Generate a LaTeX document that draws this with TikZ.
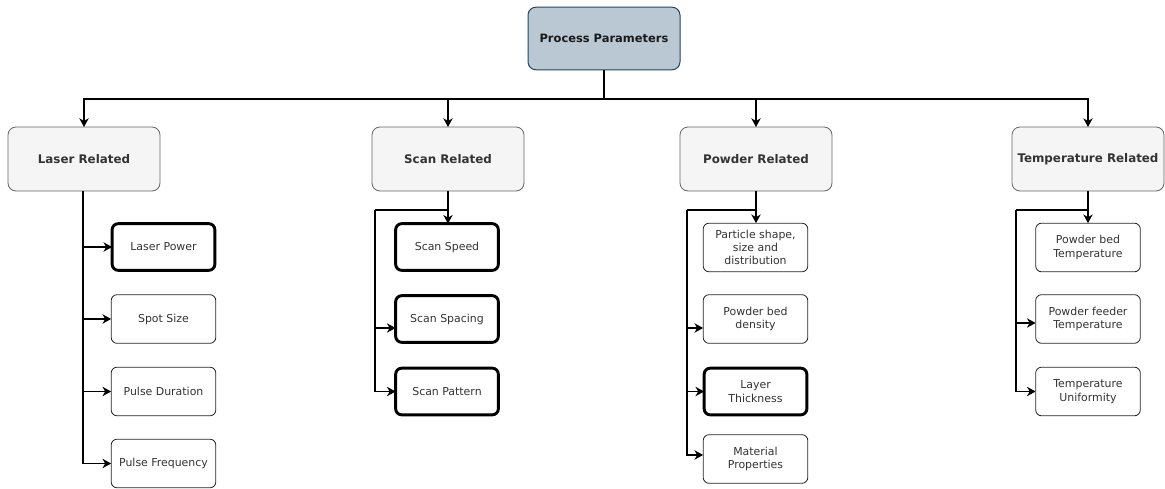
\documentclass[tikz,border=0pt]{standalone}
\usepackage{fontspec}
\setmainfont{DejaVu Sans}
\usetikzlibrary{arrows.meta,calc}
\definecolor{topfill}{HTML}{BAC8D3}
\definecolor{topline}{HTML}{23445D}
\definecolor{catfill}{HTML}{F5F5F5}
\definecolor{catline}{HTML}{666666}
\definecolor{txt}{HTML}{333333}
\tikzset{
  topbox/.style={draw=topline, fill=topfill, rounded corners=6pt, line width=0.75pt,
    minimum width=114pt, minimum height=47pt, inner sep=0pt, outer sep=0pt,
    font=\fontsize{8.6pt}{10pt}\selectfont\bfseries, text=black!90},
  catbox/.style={draw=catline, fill=catfill, rounded corners=6pt, line width=0.6pt,
    minimum width=114pt, minimum height=48pt, inner sep=0pt, outer sep=0pt,
    font=\fontsize{8.9pt}{10pt}\selectfont\bfseries, text=txt},
  leaf/.style={draw=black!85, fill=white, rounded corners=4.5pt, line width=0.6pt,
    minimum width=78.5pt, minimum height=36.5pt, inner sep=0pt, outer sep=0pt,
    align=center, font=\fontsize{8.2pt}{10pt}\selectfont, text=txt},
  boldleaf/.style={leaf, draw=black, line width=2.2pt, minimum width=77pt, minimum height=35pt},
  conn/.style={draw=black, line width=1.1pt},
  arr/.style={conn, -{Stealth[length=6.5pt,width=7pt,inset=2pt]}}
}
\begin{document}
\begin{tikzpicture}[x=0.75pt,y=-0.75pt]
\useasboundingbox (0,0) rectangle (1165,489);
% top
\node[topbox] (pp) at (604,38.5) {Process Parameters};
% categories
\node[catbox] (laser) at (84,159) {Laser Related};
\node[catbox] (scan) at (448,159) {Scan Related};
\node[catbox] (powder) at (756,159) {Powder Related};
\node[catbox] (temp) at (1088,159) {Temperature Related};
% laser children
\node[boldleaf] (lp) at (163.5,247) {Laser Power};
\node[leaf] (spot) at (163.5,319) {Spot Size};
\node[leaf] (pd) at (163.5,391.5) {Pulse Duration};
\node[leaf] (pf) at (163.5,463.5) {Pulse Frequency};
% scan children
\node[boldleaf] (ss) at (447,247) {Scan Speed};
\node[boldleaf] (sp) at (447,319) {Scan Spacing};
\node[boldleaf] (spat) at (447,391.5) {Scan Pattern};
% powder children
\node[leaf] (part) at (755.5,247.5) {Particle shape,\\size and\\distribution};
\node[leaf] (pbd) at (755.5,319) {Powder bed\\density};
\node[boldleaf] (lt) at (755.5,391.5) {Layer\\Thickness};
\node[leaf] (mp) at (755.5,459) {Material\\Properties};
% temperature children
\node[leaf] (pbt) at (1088,247.5) {Powder bed\\Temperature};
\node[leaf] (pft) at (1088,319) {Powder feeder\\Temperature};
\node[leaf] (tu) at (1088,391.5) {Temperature\\Uniformity};
% top connectors
\coordinate (bus) at (604,99);
\draw[conn] (pp.south) -- (bus);
\draw[arr] (bus) -| (laser.north);
\draw[arr] (bus) -| (scan.north);
\draw[arr] (bus) -| (powder.north);
\draw[arr] (bus) -| (temp.north);
% laser connectors
\coordinate (lb) at (83,191);
\draw[arr] (lb) |- (lp.west);
\draw[arr] (lb) |- (spot.west);
\draw[arr] (lb) |- (pd.west);
\draw[arr] (lb) |- (pf.west);
% scan connectors
\coordinate (sbend) at (375,210);
\draw[arr] (scan.south) -- (scan.south |- ss.north);
\draw[conn] (scan.south) |- (sbend);
\draw[arr] (sbend) |- ($(sp.west)+(0,9)$);
\draw[arr] (sbend) |- (spat.west);
% powder connectors
\coordinate (pbend) at (687,210);
\draw[arr] (powder.south) -- (powder.south |- part.north);
\draw[conn] (powder.south) |- (pbend);
\draw[arr] (pbend) |- ($(pbd.west)+(0,9)$);
\draw[arr] (pbend) |- (lt.west);
\draw[arr] (pbend) |- ($(mp.west)+(0,-4)$);
% temperature connectors
\coordinate (tbend) at (1016,210);
\draw[arr] (temp.south) -- (temp.south |- pbt.north);
\draw[conn] (temp.south) |- (tbend);
\draw[arr] (tbend) |- ($(pft.west)+(0,4)$);
\draw[arr] (tbend) |- (tu.west);
\end{tikzpicture}
\end{document}
